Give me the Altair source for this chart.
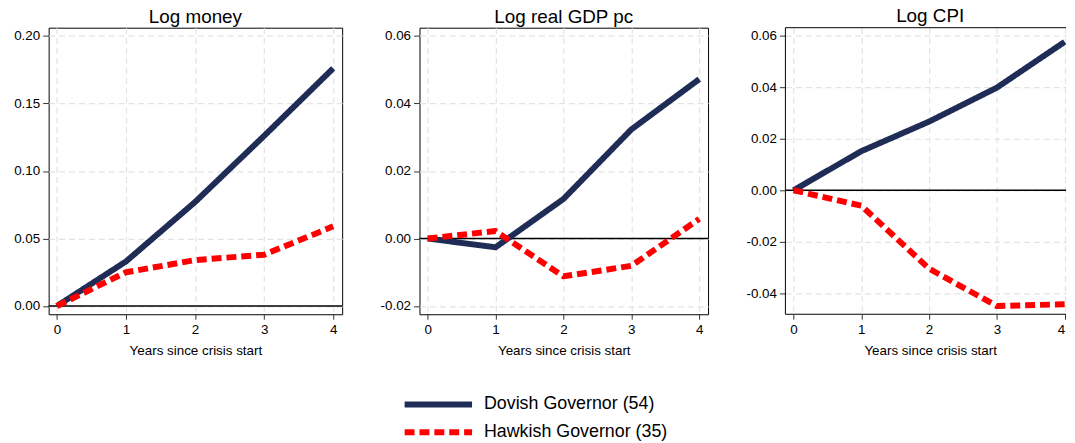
import altair as alt
import pandas as pd

years = [0, 1, 2, 3, 4]
groups = ["Dovish Governor (54)", "Hawkish Governor (35)"]

money_dovish = [0.0, 0.033, 0.077, 0.126, 0.176]
money_hawkish = [0.0, 0.025, 0.034, 0.038, 0.059]
gdp_dovish = [0.0, -0.0026, 0.0117, 0.0323, 0.0472]
gdp_hawkish = [0.0, 0.0022, -0.0112, -0.0081, 0.0058]
cpi_dovish = [0.0, 0.0152, 0.0267, 0.0399, 0.0577]
cpi_hawkish = [0.0, -0.0060, -0.0305, -0.0450, -0.0443]

panel_titles = ["Log money", "Log real GDP pc", "Log CPI"]
y_ticks = [
    [0.00, 0.05, 0.10, 0.15, 0.20],
    [-0.02, 0.00, 0.02, 0.04, 0.06],
    [-0.04, -0.02, 0.00, 0.02, 0.04, 0.06],
]
y_domains = [
    [-0.0061, 0.2061],
    [-0.02244, 0.06244],
    [-0.0482, 0.0632],
]
x_domains = [
    [-0.12, 4.13],
    [-0.12, 4.13],
    [-0.12, 4.02],
]
x_title = "Years since crisis start"

series = {
    "Log money": (money_dovish, money_hawkish),
    "Log real GDP pc": (gdp_dovish, gdp_hawkish),
    "Log CPI": (cpi_dovish, cpi_hawkish),
}

rows = []
for p, (d, h) in series.items():
    for yr, v in zip(years, d):
        rows.append({"panel": p, "year": yr, "value": v, "group": groups[0]})
    for yr, v in zip(years, h):
        rows.append({"panel": p, "year": yr, "value": v, "group": groups[1]})
df = pd.DataFrame(rows)

NAVY = "#1f2c56"
RED = "#ff0000"
FONT = "Liberation Sans"
PLOT_H = 289
widths = [296, 291, 283]
Y_LABEL_EXPR = "replace(format(datum.value, '.2f'), '\u2212', '-')"


def make_panel(i):
    title = panel_titles[i]
    w = widths[i]
    last = i == 2
    yscale = alt.Scale(domain=y_domains[i], nice=False, zero=False)
    xscale = alt.Scale(domain=x_domains[i], nice=False, zero=False)
    sub = df[df["panel"] == title]
    zero = alt.Chart(pd.DataFrame({"y": [0.0]})).mark_rule(
        color="black", strokeWidth=1.5
    ).encode(
        y=alt.Y("y:Q", scale=yscale),
        x=alt.value(0),
        x2=alt.value(w),
    )
    xaxis_kw = dict(values=years, format="d", title=x_title)
    title_kw = dict(
        frame="group", anchor="middle", fontSize=19, font=FONT,
        fontWeight="normal", color="black", baseline="alphabetic", offset=-14,
    )
    if last:
        xaxis_kw["labelFlush"] = 3
        xaxis_kw["titleX"] = w / 2 + 4.5
        title_kw["dx"] = 4.5
    lines = alt.Chart(sub).mark_line(
        strokeWidth=6, strokeCap="butt", strokeJoin="round", clip=True
    ).encode(
        x=alt.X("year:Q", scale=xscale, axis=alt.Axis(**xaxis_kw)),
        y=alt.Y(
            "value:Q",
            scale=yscale,
            axis=alt.Axis(values=y_ticks[i], labelExpr=Y_LABEL_EXPR, title=None),
        ),
        color=alt.Color(
            "group:N",
            scale=alt.Scale(domain=groups, range=[NAVY, RED]),
            legend=alt.Legend(title=None),
        ),
        strokeDash=alt.StrokeDash(
            "group:N",
            scale=alt.Scale(domain=groups, range=[[1, 0], [10, 5]]),
            legend=alt.Legend(title=None),
        ),
    )
    layers = [zero, lines]
    props = dict(
        width=w,
        height=PLOT_H,
        title=alt.TitleParams(title, **title_kw),
    )
    if last:
        frame_src = pd.DataFrame({"k": [0]})
        top = alt.Chart(frame_src).mark_rule(color="black", strokeWidth=1).encode(
            x=alt.value(0), x2=alt.value(w), y=alt.value(0))
        bottom = alt.Chart(frame_src).mark_rule(color="black", strokeWidth=1).encode(
            x=alt.value(0), x2=alt.value(w), y=alt.value(PLOT_H))
        left = alt.Chart(frame_src).mark_rule(color="black", strokeWidth=1).encode(
            x=alt.value(0), y=alt.value(0), y2=alt.value(PLOT_H))
        layers = [zero, lines, top, bottom, left]
        props["view"] = alt.ViewBackground(strokeOpacity=0)
    return alt.layer(*layers).properties(**props)


chart = alt.hconcat(
    *[make_panel(i) for i in range(3)], spacing=78, bounds="flush"
).properties(
    padding={"left": 5, "top": -3, "right": 0, "bottom": 0}
).configure_view(
    stroke="black", strokeWidth=1
).configure_axis(
    labelFont=FONT, labelFontSize=13.5, labelColor="black",
    titleFont=FONT, titleFontSize=13.5, titleColor="black", titleFontWeight="normal",
    tickColor="#333333", tickWidth=1, domain=False,
    grid=True, gridColor="#e3e3e3", gridDash=[6, 4], gridWidth=1.2,
).configure_axisY(
    tickSize=6, labelPadding=3,
).configure_axisX(
    tickSize=5, labelPadding=3, titlePadding=8,
).configure_legend(
    orient="none", legendX=383, legendY=370, direction="vertical",
    padding=0, symbolType="M-5,0H5", symbolSize=185, symbolStrokeWidth=6,
    labelFont=FONT, labelFontSize=18, labelColor="black", rowPadding=4,
    labelOffset=36, labelLimit=400,
)

chart.save("out.html", embed_options={"renderer": "svg", "actions": False})
